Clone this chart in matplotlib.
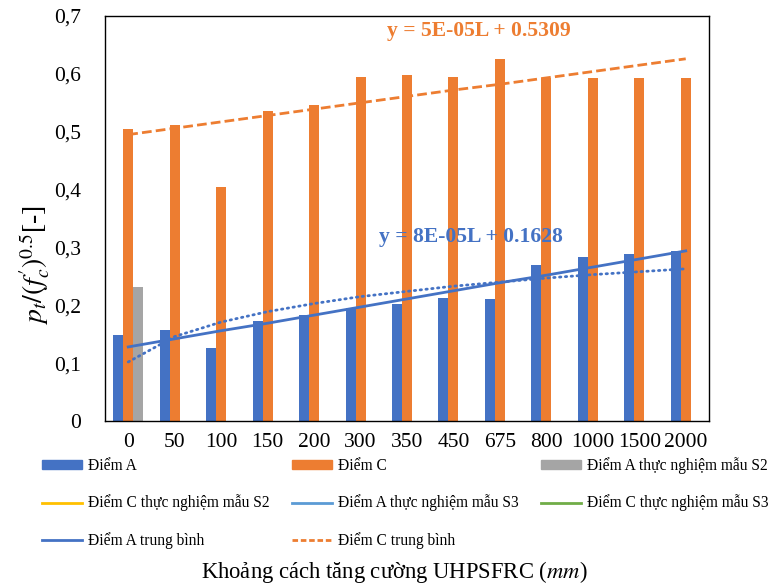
import numpy as np
import matplotlib
matplotlib.use("Agg")
import matplotlib.pyplot as plt
from matplotlib.lines import Line2D
from matplotlib.patches import Patch

# Distances (mm) along the UHPSFRC reinforcement
categories = ["0", "50", "100", "150", "200", "300", "350", "450", "675",
              "800", "1000", "1500", "2000"]

# Normalised stress p_t/(f_c')^0.5 at points A and C
diem_a = [0.149, 0.157, 0.127, 0.172, 0.183, 0.195, 0.203, 0.212, 0.210,
          0.269, 0.284, 0.288, 0.294]
diem_c = [0.505, 0.512, 0.404, 0.535, 0.547, 0.595, 0.598, 0.594, 0.626,
          0.593, 0.593, 0.592, 0.592]
# test result, specimen S2 (only at L = 0)
diem_a_s2 = [0.232, None, None, None, None, None, None, None, None,
             None, None, None, None]

# averaged lines
diem_a_tb = [0.128, 0.142, 0.156, 0.169, 0.183, 0.197, 0.211, 0.225, 0.239,
             0.252, 0.266, 0.280, 0.294]
diem_c_tb = [0.495, 0.506, 0.517, 0.528, 0.539, 0.550, 0.561, 0.572, 0.582,
             0.593, 0.604, 0.615, 0.626]
# log trend of point A
diem_a_log = [0.102, 0.146, 0.171, 0.189, 0.203, 0.215, 0.224, 0.233, 0.240,
              0.247, 0.253, 0.258, 0.263]

eq_a = "y = 8E-05L + 0.1628"
eq_c = "y = 5E-05L + 0.5309"

BLUE = "#4472C4"
ORANGE = "#ED7D31"
GRAY = "#A5A5A5"

plt.rcParams['font.family'] = ['Liberation Serif', 'DejaVu Serif']
plt.rcParams['mathtext.fontset'] = 'stix'

fig = plt.figure(figsize=(7.79, 5.86), dpi=100)
ax = fig.add_axes([0.1348, 0.2816, 0.7753, 0.6911])

x = np.arange(len(categories))
w = 0.215

ax.bar(x - w, diem_a, width=w, color=BLUE, zorder=2)
ax.bar(x, diem_c, width=w, color=ORANGE, zorder=2)
s2 = np.array([np.nan if v is None else v for v in diem_a_s2], dtype=float)
ax.bar(x + w, s2, width=w, color=GRAY, zorder=2)

ax.plot(x, diem_a_tb, color=BLUE, lw=2.0, zorder=3)
ax.plot(x, diem_c_tb, color=ORANGE, lw=2.0, ls=(0, (3.5, 1.5)), zorder=3)
ax.plot(x, diem_a_log, color=BLUE, lw=2.0, ls=(0, (0.5, 1.6)),
        dash_capstyle='round', zorder=3)

ax.text(5.57, 0.6745, eq_c, color=ORANGE, fontsize=15.6, fontweight='bold',
        ha='left', va='center')
ax.text(5.4, 0.3175, eq_a, color=BLUE, fontsize=15.6, fontweight='bold',
        ha='left', va='center')

ax.set_xlim(-0.5, len(categories) - 0.5)
ax.set_ylim(0, 0.7)
ax.set_xticks(x)
ax.set_xticklabels(categories)
ax.set_yticks(np.arange(0, 0.71, 0.1))
ax.set_yticklabels(["0"] + [("%.1f" % v).replace(".", ",") for v in np.arange(0.1, 0.71, 0.1)])
ax.tick_params(length=0, labelsize=15.5)
ax.tick_params(axis='x', pad=9)
ax.tick_params(axis='y', pad=17)
for s in ax.spines.values():
    s.set_color("black")
    s.set_linewidth(1.0)

fig.text(35 / 779, 1 - 265 / 586, r"$p_t/(f_c')^{0.5}$[-]", fontsize=20,
         rotation=90, ha="center", va="center")

handles = [
    Patch(color=BLUE), Line2D([], [], color="#FFC000", lw=2),
    Line2D([], [], color=BLUE, lw=2),
    Patch(color=ORANGE), Line2D([], [], color="#5B9BD5", lw=2),
    Line2D([], [], color=ORANGE, lw=2, ls=(0, (2, 1))),
    Patch(color=GRAY), Line2D([], [], color="#70AD47", lw=2),
]
labels = [
    "Điểm A", "Điểm C thực nghiệm mẫu S2", "Điểm A trung bình",
    "Điểm C", "Điểm A thực nghiệm mẫu S3", "Điểm C trung bình",
    "Điểm A thực nghiệm mẫu S2", "Điểm C thực nghiệm mẫu S3",
]
fig.legend(handles, labels, ncol=3, loc="upper left",
           bbox_to_anchor=(42 / 779, 1 - 457 / 586), frameon=False,
           fontsize=11.2, handlelength=2.57, handleheight=0.45,
           handletextpad=0.38, columnspacing=1.45, labelspacing=1.33,
           borderpad=0, borderaxespad=0)

fig.text(394 / 779, 1 - 572 / 586,
         r"Khoảng cách tăng cường UHPSFRC ($\mathit{mm}$)", fontsize=16.3,
         ha="center", va="center")

fig.savefig("out.png", dpi=100)
